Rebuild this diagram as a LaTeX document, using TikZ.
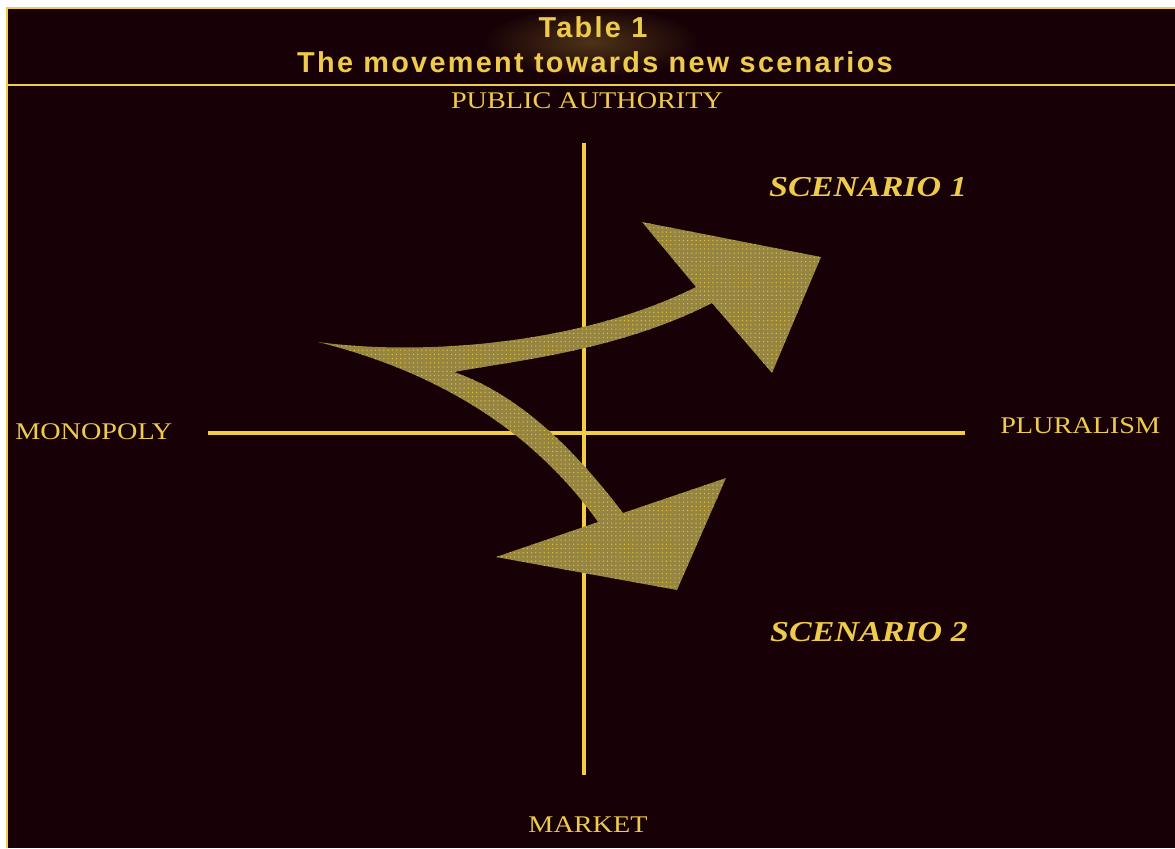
\documentclass[tikz,border=0pt]{standalone}
\usepackage{fontspec}
\usepackage{xcolor}
\usepackage{tikz}
\usetikzlibrary{patterns}
\setmainfont{Liberation Serif}
\newfontfamily\headfont[LetterSpace=8]{Liberation Sans}
\definecolor{night}{HTML}{170006}
\definecolor{gold}{HTML}{F0CE48}
\definecolor{goldtext}{HTML}{EECB4A}
\definecolor{olive}{HTML}{968540}
\newcommand{\wide}[1]{\scalebox{1.18}[1]{#1}}

\tikzset{
  axislabel/.style={text=goldtext,font=\fontsize{17}{19}\selectfont,inner sep=0pt},
  scenlabel/.style={text=goldtext,font=\fontsize{20.5}{22}\selectfont\bfseries\itshape,inner sep=0pt},
  headline/.style={text=goldtext,font=\headfont\fontsize{20.5}{23}\selectfont\bfseries,inner sep=0pt},
  axisline/.style={gold,line width=2.8pt},
  screen/.style={fill=olive,postaction={pattern=dots,pattern color=gold!85!olive}},
}

\begin{document}
\begin{tikzpicture}[x=0.025cm,y=-0.025cm]
\useasboundingbox (0,0) rectangle (1175,848);
\fill[white] (0,0) rectangle (1175,848);
\fill[night] (7,8) rectangle (1175,848);
\begin{scope}
\clip (7,8) rectangle (1175,85);
\shade[inner color=night!75!goldtext,outer color=night] (591,42) ellipse (110 and 36);
\end{scope}
\draw[gold,line width=1.8pt] (1175,8) -- (7,8) -- (7,848); \draw[gold,line width=1.8pt] (7,85) -- (1175,85);
% title band
\node[headline] (tab) at (593,27) {Table 1};
\node[headline] (ttl) at (595,62) {The movement towards new scenarios};
% axes
\coordinate (top) at (584,143); \coordinate (bot) at (584,775);
\coordinate (lft) at (208,433); \coordinate (rgt) at (965,433);
\draw[axisline] (lft) -- (rgt); \draw[axisline] (top) -- (bot);
\node[axislabel] (pub) at (587,101) {\wide{PUBLIC AUTHORITY}};
\node[axislabel] (mkt) at (588,825) {\wide{MARKET}};
\node[axislabel,anchor=west] (mono) at (15,432) {\wide{MONOPOLY}};
\node[axislabel,anchor=west] (plur) at (1000,426) {\wide{PLURALISM}};
\node[scenlabel] (sc1) at (868,187) {\wide{SCENARIO 1}};
\node[scenlabel] (sc2) at (869,632) {\wide{SCENARIO 2}};
% the split arrow
\path[screen] (318,342) .. controls (420,356) and (580,345) .. (696,287)
  -- (642,222) -- (821,257) -- (772,373) -- (712,303)
  .. controls (620,350) and (520,360) .. (454,372)
  .. controls (520,395) and (575,450) .. (623,513)
  -- (726,478) -- (677,590) -- (496,557) -- (598,522)
  .. controls (540,440) and (450,375) .. (318,342) -- cycle;
\end{tikzpicture}
\end{document}
